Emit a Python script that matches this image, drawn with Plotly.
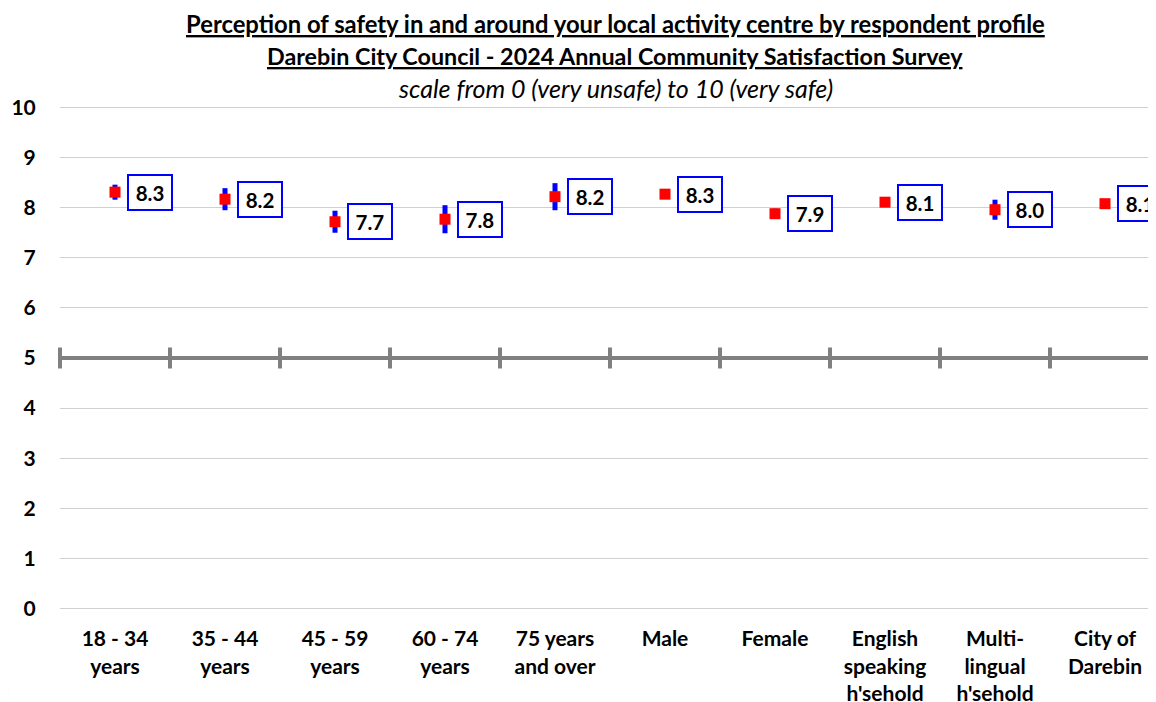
import plotly.graph_objects as go

categories = ["18 - 34<br>years", "35 - 44<br>years", "45 - 59<br>years", "60 - 74<br>years",
              "75 years<br>and over", "Male", "Female", "English<br>speaking<br>h'sehold",
              "Multi-<br>lingual<br>h'sehold", "City of<br>Darebin"]
means = [8.31, 8.17, 7.72, 7.77, 8.22, 8.27, 7.88, 8.11, 7.96, 8.08]
moe = [0.15, 0.22, 0.22, 0.28, 0.27, 0.06, 0.10, 0.03, 0.20, 0.0]
ref_value = 5
y_ticks = list(range(0, 11))

FONT = "Lato"
n = len(categories)
xs = list(range(n))
bounds = [i - 0.5 for i in range(n + 1)]

fig = go.Figure()

# reference line at 5 with category dividers
fig.add_trace(go.Scatter(
    x=bounds, y=[ref_value] * len(bounds), mode="lines+markers",
    line=dict(color="#808080", width=4),
    marker=dict(symbol="line-ns", size=15, line=dict(color="#808080", width=4)),
    cliponaxis=False, hoverinfo="skip", showlegend=False))

fig.add_trace(go.Scatter(
    x=xs, y=means, mode="markers",
    marker=dict(symbol="square", size=11, color="#FF0000"),
    error_y=dict(type="data", array=moe, color="#0000FF", thickness=5, width=0),
    showlegend=False))

for i, v in enumerate(means):
    fig.add_annotation(
        x=i, y=v, xref="x", yref="y", text=f"<b>{v:.1f}</b>", showarrow=False,
        xshift=35, bgcolor="white", bordercolor="#0000FF", borderwidth=2,
        borderpad=4, width=34, height=25,
        font=dict(family=FONT, size=20.5, color="black"))

titles = [
    ("<b><u>Perception of safety in and around your local activity centre by respondent profile</u></b>", 1.163, 23.8),
    ("<b><u>Darebin City Council - 2024 Annual Community Satisfaction Survey</u></b>", 1.099, 23.3),
    ("<i>scale from 0 (very unsafe) to 10 (very safe)</i>", 1.036, 25),
]
for t, yy, sz in titles:
    fig.add_annotation(text=t, x=0.5064, y=yy, xref="paper", yref="paper",
                       showarrow=False, xanchor="center", yanchor="middle",
                       font=dict(family=FONT, size=sz, color="black"))

# small decorative corner mark
fig.add_shape(type="rect", xref="paper", yref="paper",
              x0=-0.0547, x1=-0.0474, y0=-0.177, y1=-0.1436,
              line=dict(width=0), fillcolor="#b5dde0")

fig.update_layout(
    width=1148, height=694,
    margin=dict(l=52, r=0, t=97.5, b=91.5),
    plot_bgcolor="white", paper_bgcolor="white",
    font=dict(family=FONT, color="black"),
    xaxis=dict(range=[-0.5, -0.5 + 1096 / 110], tickmode="array", tickvals=xs,
               ticktext=categories, showgrid=False, zeroline=False, showline=False,
               automargin=False,
               ticks="outside", ticklen=10, tickcolor="rgba(0,0,0,0)",
               tickfont=dict(family=FONT, size=21, color="black", weight="bold")),
    yaxis=dict(range=[-0.03, 10.03], tickmode="array", tickvals=y_ticks,
               showgrid=True, gridcolor="#d0d0d0", gridwidth=1, zeroline=False,
               showline=False, automargin=False,
               ticks="outside", ticklen=19, tickcolor="rgba(0,0,0,0)",
               tickfont=dict(family=FONT, size=21, color="black", weight="bold")),
)

fig.write_html("out.html")
